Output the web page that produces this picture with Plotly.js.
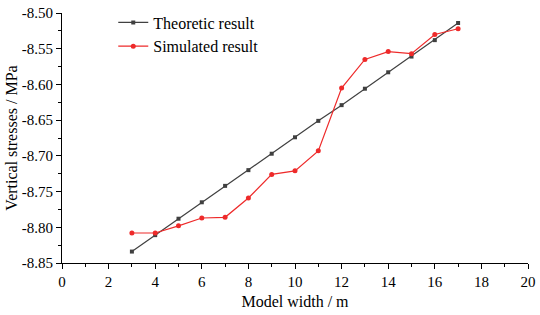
<!DOCTYPE html>
<html><head><meta charset="utf-8">
<script src="https://cdn.plot.ly/plotly-3.0.1.min.js"></script>
<style>html,body{margin:0;padding:0;background:#fff}#chart{width:540px;height:315px}</style>
</head><body><div id="chart"></div>
<script>
const widths = [3,4,5,6,7,8,9,10,11,12,13,14,15,16,17];
const theoretic = [-8.834,-8.811,-8.788,-8.765,-8.742,-8.720,-8.697,-8.674,-8.651,-8.629,-8.606,-8.583,-8.561,-8.538,-8.514];
const simulated = [-8.808,-8.808,-8.798,-8.787,-8.786,-8.759,-8.726,-8.721,-8.693,-8.605,-8.565,-8.554,-8.557,-8.530,-8.522];
const xTicks = [0,2,4,6,8,10,12,14,16,18,20];
const yTicks = [-8.85,-8.80,-8.75,-8.70,-8.65,-8.60,-8.55,-8.50];

const fam = '"Liberation Serif","Times New Roman",serif';
const font = {family:fam, color:'#000', size:15};
const traces = [
  {x:widths, y:theoretic, name:'Theoretic result', mode:'lines+markers',
   line:{color:'#404040', width:1.2}, marker:{symbol:'square', size:4, color:'#404040'}},
  {x:widths, y:simulated, name:'Simulated result', mode:'lines+markers',
   line:{color:'#ee2a2a', width:1.2}, marker:{symbol:'circle', size:5, color:'#ee2a2a'}}
];
const axisCommon = {showgrid:false, zeroline:false, showline:true, linecolor:'#000', linewidth:1,
  ticks:'outside', ticklen:5, tickwidth:1, tickcolor:'#000', mirror:false,
  tickfont:{family:fam, size:15, color:'#000'},
  minor:{ticks:'outside', ticklen:3, tickwidth:1, tickcolor:'#000'}};
const layout = {
  width:540, height:315, paper_bgcolor:'#fff', plot_bgcolor:'#fff', font:font,
  margin:{l:62, r:12, t:13, b:52, autoexpand:false},
  showlegend:true,
  legend:{x:0.11, y:1.03, xanchor:'left', yanchor:'top', bgcolor:'rgba(0,0,0,0)', tracegroupgap:0,
    font:{size:16, family:fam, color:'#000'}},
  xaxis:Object.assign({}, axisCommon, {range:[0,20], tickvals:xTicks, ticktext:xTicks.map(String),
    minor:Object.assign({}, axisCommon.minor, {dtick:1, tick0:0}),
    title:{text:'Model width / m', font:{size:16, family:fam, color:'#000'}, standoff:6}}),
  yaxis:Object.assign({}, axisCommon, {range:[-8.85,-8.50], tickvals:yTicks, ticktext:yTicks.map(v=>v.toFixed(2)),
    minor:Object.assign({}, axisCommon.minor, {dtick:0.025, tick0:-8.85}),
    title:{text:'Vertical stresses / MPa', font:{size:16, family:fam, color:'#000'}, standoff:0}})
};
Plotly.newPlot('chart', traces, layout, {staticPlot:true, displayModeBar:false});
</script></body></html>
